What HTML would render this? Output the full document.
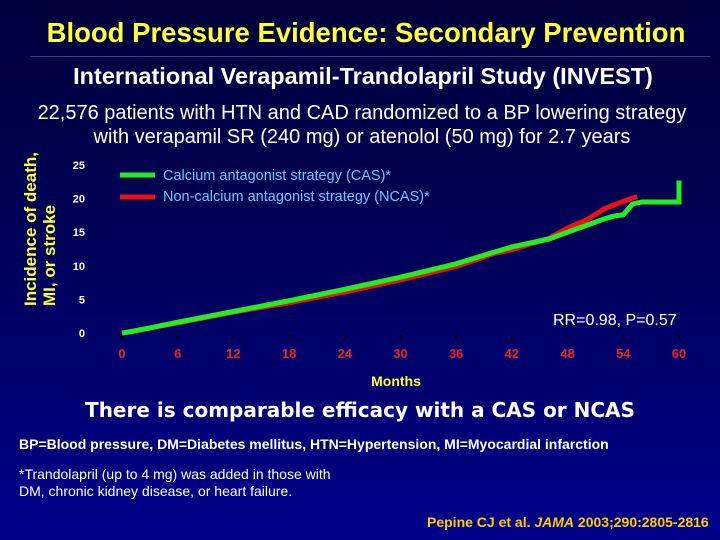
<!DOCTYPE html>
<html><head><meta charset="utf-8"><style>
html,body{margin:0;padding:0}
body{width:720px;height:540px;overflow:hidden;background:linear-gradient(#00003a 0%,#000058 45%,#00008a 100%);font-family:"Liberation Sans",sans-serif;position:relative}
.t{position:absolute;white-space:nowrap}
</style></head><body>
<div class="t" style="left:0;width:732px;top:17px;text-align:center;color:#ffff33;font-size:27.5px;font-weight:bold">Blood Pressure Evidence: Secondary Prevention</div>
<div style="position:absolute;left:30px;top:56px;width:680px;height:1px;background:#3a3a8a"></div>
<div class="t" style="left:0;width:726px;top:63px;text-align:center;color:#fff;font-size:23.5px;font-weight:bold">International Verapamil-Trandolapril Study (INVEST)</div>
<div class="t" style="left:0;width:724px;top:101px;text-align:center;color:#fff;font-size:20px;line-height:24px;">22,576 patients with HTN and CAD randomized to a BP lowering strategy<br>with verapamil SR (240 mg) or atenolol (50 mg) for 2.7 years</div>
<svg width="720" height="400" style="position:absolute;left:0;top:140px">
<g id="g"></g>
<text x="0" y="0" transform="translate(36,166) rotate(-90)" fill="#ffff33" font-size="17" font-weight="bold">Incidence of death,</text>
<text x="0" y="0" transform="translate(55,166) rotate(-90)" fill="#ffff33" font-size="17" font-weight="bold">MI, or stroke</text>
<line x1="120" y1="35" x2="155" y2="35" stroke="#22ee22" stroke-width="5"/>
<text x="163" y="40" fill="#66ccff" font-size="14.5">Calcium antagonist strategy (CAS)*</text>
<line x1="120" y1="57" x2="155" y2="57" stroke="#ee1111" stroke-width="5"/>
<text x="163" y="61" fill="#66ccff" font-size="14.5">Non-calcium antagonist strategy (NCAS)*</text>
<text x="553" y="185" fill="#fff" font-size="16">RR=0.98, P=0.57</text>
<text x="396" y="246" fill="#ffff33" font-size="14" font-weight="bold" text-anchor="middle">Months</text>
</svg>
<div class="t" style="left:0;width:720px;top:398px;text-align:center;color:#fff;font-size:20px;font-weight:bold;font-family:'DejaVu Sans',sans-serif">There is comparable efficacy with a CAS or NCAS</div>
<div class="t" style="left:19px;top:436px;color:#fff;font-size:14px;font-weight:bold">BP=Blood pressure, DM=Diabetes mellitus, HTN=Hypertension, MI=Myocardial infarction</div>
<div class="t" style="left:19px;top:466px;color:#fff;font-size:14px;line-height:17px">*Trandolapril (up to 4 mg) was added in those with<br>DM, chronic kidney disease, or heart failure.</div>
<div class="t" style="left:427px;top:514px;color:#ffcc00;font-size:14px;font-weight:bold">Pepine CJ et al. <i>JAMA</i> 2003;290:2805-2816</div>
<script>
const yTicks=[0,5,10,15,20,25];
const xTicks=[0,6,12,18,24,30,36,42,48,54,60];
const casMonths=[0,1,6,12,18,24,30,36,40,42,46,48,50,52,53,54,55,56,60,60];
const casValues=[0,0.2,1.6,3.2,4.8,6.5,8.3,10.3,12,12.8,14,15,16,17,17.4,17.6,19.2,19.5,19.5,22.7];
const ncasMonths=[0,6,12,18,24,30,36,40,42,46,48,50,52,54,55.5];
const ncasValues=[0,1.5,3.1,4.5,6.1,7.9,9.9,11.8,12.4,14.1,15.6,16.8,18.5,19.6,20.3];
const oy=140;
function sx(m){return 122+m*(679-122)/60;}
function sy(v){return 333-oy-v*(333-165)/25;}
const g=document.getElementById('g');
const NS='http://www.w3.org/2000/svg';
yTicks.forEach(v=>{const t=document.createElementNS(NS,'text');


t.setAttribute('x',85);t.setAttribute('y',sy(v)+4);t.setAttribute('fill','#fff');t.setAttribute('font-size','11');t.setAttribute('font-weight','bold');t.setAttribute('text-anchor','end');t.textContent=v;g.appendChild(t);});
xTicks.forEach(m=>{const t=document.createElementNS(NS,'text');


t.setAttribute('x',sx(m));t.setAttribute('y',sy(0)+25);t.setAttribute('fill','#ee2222');t.setAttribute('font-size','13');t.setAttribute('font-weight','bold');t.setAttribute('text-anchor','middle');t.textContent=m;g.appendChild(t);
const k=document.createElementNS(NS,'line');


k.setAttribute('x1',sx(m));k.setAttribute('x2',sx(m));k.setAttribute('y1',sy(0)+2);k.setAttribute('y2',sy(0)+6);k.setAttribute('stroke','#000');k.setAttribute('stroke-width','2');g.appendChild(k);});
function line(ms,vs,col,name){const p=document.createElementNS(NS,'polyline');


p.setAttribute('points',ms.map((m,i)=>sx(m)+','+sy(vs[i])).join(' '));p.setAttribute('fill','none');p.setAttribute('stroke',col);p.setAttribute('stroke-width','5');g.appendChild(p);}
line(ncasMonths,ncasValues,'#ee1111','ncas-line');
line(casMonths,casValues,'#22ee22','cas-line');
</script>
</body></html>
